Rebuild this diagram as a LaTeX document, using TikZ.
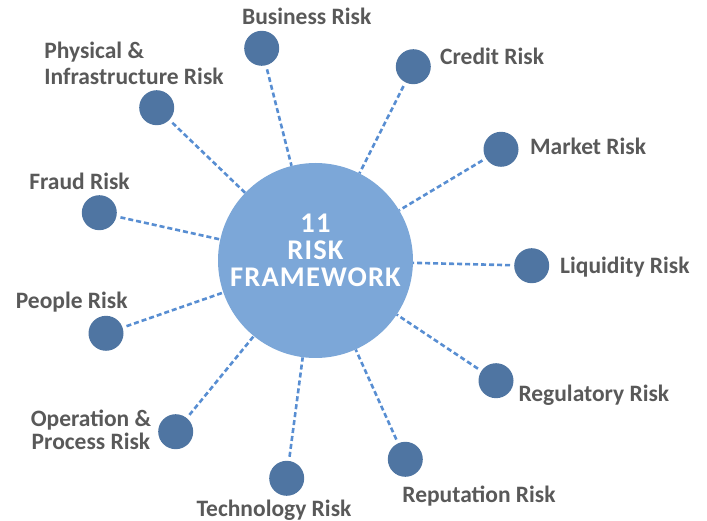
\documentclass[tikz,border=0pt]{standalone}
\usepackage{fontspec}
\setmainfont{Carlito}
\newfontfamily\hubfont[LetterSpace=4,BoldFont={Carlito Bold}]{Carlito}
\definecolor{bigfill}{RGB}{124,167,216}
\definecolor{smallfill}{RGB}{79,117,162}
\definecolor{dashcol}{RGB}{88,142,210}
\definecolor{txtgray}{RGB}{89,89,89}
\tikzset{
  hub/.style={circle, fill=bigfill, minimum size=195pt, inner sep=0pt},
  hubtext/.style={text=white, font=\hubfont\fontsize{28.5}{27}\selectfont\bfseries, align=center, inner sep=0pt},
  leaf/.style={circle, fill=smallfill, minimum size=35pt, inner sep=0pt},
  lbl/.style={text=txtgray, font=\fontsize{23.5}{23.3}\selectfont\bfseries, inner sep=0pt},
  link/.style={draw=dashcol, line width=2.6pt, dash pattern=on 5pt off 3pt, shorten <=4pt}
}
\begin{document}
\begin{tikzpicture}[x=1pt,y=-1pt]
\useasboundingbox (0,0) rectangle (707,521);
\node[hub] (c) at (315.5,260.5) {};
\node[hubtext] (ct) at (315.5,250) {11\\RISK\\FRAMEWORK};
\node[leaf] (b1) at (261.7,48.3) {};
\node[leaf] (b2) at (413.3,66.7) {};
\node[leaf] (b3) at (501,149.3) {};
\node[leaf] (b4) at (531.7,265.7) {};
\node[leaf] (b5) at (496,380.7) {};
\node[leaf] (b6) at (405.3,459.3) {};
\node[leaf] (b7) at (286.7,478.3) {};
\node[leaf] (b8) at (175.7,431.7) {};
\node[leaf] (b9) at (106,333.3) {};
\node[leaf] (b10) at (99.3,212.7) {};
\node[leaf] (b11) at (156.7,107.7) {};
\foreach \i in {1,...,11} \draw[link] (b\i) -- (c);
\node[lbl, anchor=base] (t1) at (306.7,24.3) {Business Risk};
\node[lbl, anchor=base west] (t2) at (440,65) {Credit Risk};
\node[lbl, anchor=base west] (t3) at (530,155) {Market Risk};
\node[lbl, anchor=base west] (t4) at (560,274) {Liquidity Risk};
\node[lbl, anchor=base west] (t5) at (518.3,401.7) {Regulatory Risk};
\node[lbl, anchor=base] (t6) at (479,502.3) {Reputation Risk};
\node[lbl, anchor=base] (t7) at (274,516.5) {Technology Risk};
\node[lbl, anchor=center, align=center] (t8) at (91,430) {Operation \&\\Process Risk};
\node[lbl, anchor=base] (t9) at (71.7,308.3) {People Risk};
\node[lbl, anchor=base] (t10) at (79.5,190) {Fraud Risk};
\node[lbl, anchor=center, align=left, font=\fontsize{23.5}{26}\selectfont\bfseries] (t11) at (134,63) {Physical \&\\Infrastructure Risk};
\end{tikzpicture}
\end{document}
